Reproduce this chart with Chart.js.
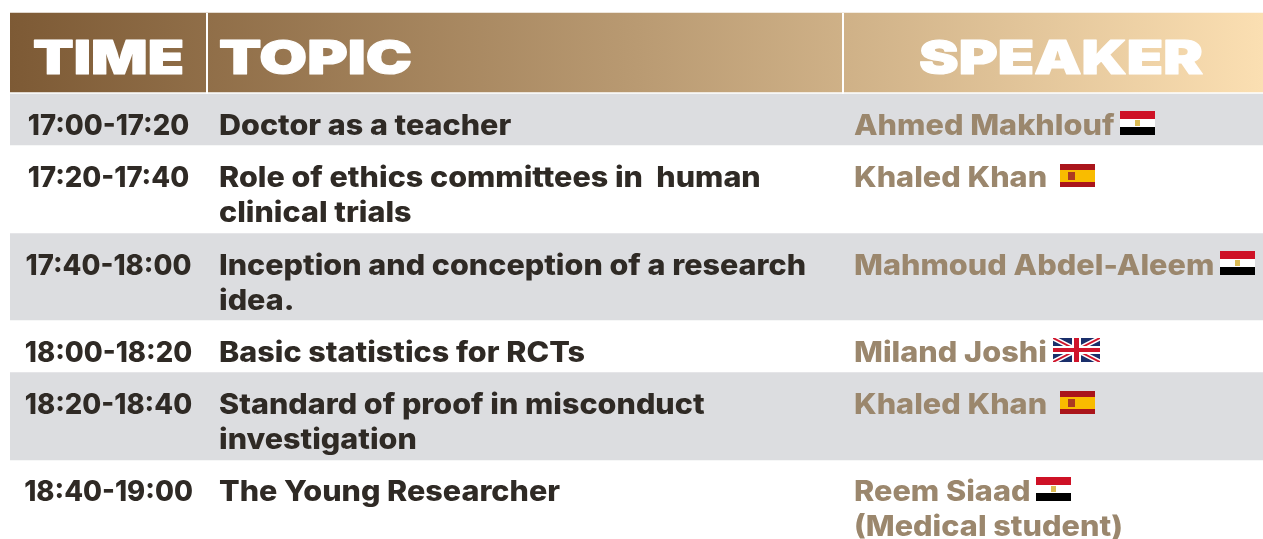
<!DOCTYPE html>
<html>
<head>
<meta charset="utf-8">
<title>Programme</title>
<script src="https://cdn.jsdelivr.net/npm/chart.js@4"></script>
<style>
    html, body { margin: 0; padding: 0; background: #ffffff; overflow: hidden; }
    canvas { display: block; }
</style>
</head>
<body>
<canvas id="chart" width="1263" height="539"></canvas>
<script>
// ============================================
// DATA
// ============================================
const headers = ['TIME', 'TOPIC', 'SPEAKER'];
const times = ['17:00-17:20', '17:20-17:40', '17:40-18:00', '18:00-18:20', '18:20-18:40', '18:40-19:00'];
const topics = [
    ['Doctor as a teacher'],
    ['Role of ethics committees in  human', 'clinical trials'],
    ['Inception and conception of a research', 'idea.'],
    ['Basic statistics for RCTs'],
    ['Standard of proof in misconduct', 'investigation'],
    ['The Young Researcher']
];
const speakers = [
    ['Ahmed Makhlouf'],
    ['Khaled Khan '],
    ['Mahmoud Abdel-Aleem'],
    ['Miland Joshi'],
    ['Khaled Khan '],
    ['Reem Siaad', '(Medical student)']
];
const flags = ['egypt', 'spain', 'egypt', 'uk', 'spain', 'egypt'];
// row edges on the y axis
const headerBand = [13, 92];
const rowEdges = [94, 145, 233, 320, 372, 460, 539];
const columnRules = [207, 843];

// ============================================
// STYLE
// ============================================
const GREY = '#dcdde0';
const INK = '#2f2a25';
const TAN = '#9b876d';
const TIME_CENTER = 108.5;
const TOPIC_X = 219;
const SPEAKER_X = 854;
const BODY_FONT = '800 28px Inter';
const TIME_STRETCH = 0.98;
const TOPIC_STRETCH = 1.09;
const SPEAKER_STRETCH = 1.095;
const LINE_GAP = 35;
const ROW_BASELINES = [135, 187, 275, 362, 414, 501];
const HEADER_SLOTS = [[33, 184], [219, 412], [919, 1203]];
const HEADER_BASELINE = 74;

function headerGradient(context) {
    const area = context.chart.chartArea;
    if (!area) return '#b08f68';
    const g = context.chart.ctx.createLinearGradient(area.left, 0, area.right, 0);
    g.addColorStop(0, '#7d5a35');
    g.addColorStop(0.5, '#b99a72');
    g.addColorStop(1, '#fbdfb2');
    return g;
}

function buildDatasets() {
    const sets = [{
        label: 'header',
        data: [headerBand],
        backgroundColor: headerGradient,
        xAxisID: 'band'
    }];
    rowEdges.slice(0, -1).forEach((edge, i) => {
        sets.push({
            label: times[i],
            data: [[edge, rowEdges[i + 1]]],
            backgroundColor: i % 2 === 0 ? GREY : '#ffffff',
            xAxisID: 'band'
        });
    });
    columnRules.forEach(x => {
        sets.push({
            type: 'scatter',
            label: 'rule',
            data: [{ x: x, y: headerBand[0] }, { x: x, y: headerBand[1] + 2 }],
            showLine: true,
            borderColor: '#ffffff',
            borderWidth: 2,
            pointRadius: 0,
            xAxisID: 'x',
            order: -1
        });
    });
    return sets;
}

// ============================================
// FLAGS
// ============================================
function drawEgypt(ctx, x, y) {
    ctx.fillStyle = '#ce1126'; ctx.fillRect(x, y, 35, 8);
    ctx.fillStyle = '#ffffff'; ctx.fillRect(x, y + 8, 35, 8);
    ctx.fillStyle = '#000000'; ctx.fillRect(x, y + 16, 35, 8);
    ctx.fillStyle = '#dcbc55'; ctx.fillRect(x + 15, y + 9, 5, 6);
}

function drawSpain(ctx, x, y) {
    ctx.fillStyle = '#aa151b'; ctx.fillRect(x, y + 1, 35, 23);
    ctx.fillStyle = '#f9bc00'; ctx.fillRect(x, y + 7, 35, 12);
    ctx.fillStyle = '#ad3a22'; ctx.fillRect(x + 8, y + 9, 7, 8);
}

function drawUk(ctx, x, y) {
    const w = 47, h = 24;
    ctx.save();
    ctx.beginPath(); ctx.rect(x, y, w, h); ctx.clip();
    ctx.fillStyle = '#1a2f6b'; ctx.fillRect(x, y, w, h);
    ctx.strokeStyle = '#ffffff'; ctx.lineWidth = 5;
    ctx.beginPath();
    ctx.moveTo(x, y); ctx.lineTo(x + w, y + h);
    ctx.moveTo(x + w, y); ctx.lineTo(x, y + h);
    ctx.stroke();
    ctx.strokeStyle = '#cf142b'; ctx.lineWidth = 2;
    ctx.stroke();
    ctx.fillStyle = '#ffffff';
    ctx.fillRect(x + 19, y, 9, h); ctx.fillRect(x, y + 8, w, 8);
    ctx.fillStyle = '#cf142b';
    ctx.fillRect(x + 21, y, 5, h); ctx.fillRect(x, y + 10, w, 4);
    ctx.restore();
}

// ============================================
// TEXT PLUGIN
// ============================================
function stretchedText(ctx, text, x, y, stretch, heavy) {
    ctx.save();
    ctx.translate(x, y);
    ctx.scale(stretch, 1);
    if (heavy) {
        ctx.strokeStyle = ctx.fillStyle;
        ctx.lineWidth = heavy;
        ctx.lineJoin = 'round';
        ctx.strokeText(text, 0, 0);
    }
    ctx.fillText(text, 0, 0);
    ctx.restore();
}

const tablePlugin = {
    id: 'tableText',
    afterDatasetsDraw(chart) {
        const ctx = chart.ctx;
        const xs = chart.scales.x;
        const ys = chart.scales.y;
        ctx.save();
        ctx.textBaseline = 'alphabetic';
        ctx.textAlign = 'left';

        // header labels, stretched to the wide display face
        ctx.fillStyle = '#ffffff';
        ctx.font = '900 47px Inter';
        headers.forEach((label, i) => {
            const [from, to] = HEADER_SLOTS[i];
            const stretch = (to - from) / ctx.measureText(label).width;
            stretchedText(ctx, label, xs.getPixelForValue(from), ys.getPixelForValue(HEADER_BASELINE), stretch, 1.2);
        });

        ctx.font = BODY_FONT;
        times.forEach((time, i) => {
            const base = ROW_BASELINES[i];
            ctx.fillStyle = INK;
            const tw = ctx.measureText(time).width * TIME_STRETCH;
            stretchedText(ctx, time, xs.getPixelForValue(TIME_CENTER) - tw / 2, ys.getPixelForValue(base), TIME_STRETCH);

            topics[i].forEach((line, n) => {
                stretchedText(ctx, line, xs.getPixelForValue(TOPIC_X), ys.getPixelForValue(base + n * LINE_GAP), TOPIC_STRETCH);
            });

            ctx.fillStyle = TAN;
            speakers[i].forEach((line, n) => {
                stretchedText(ctx, line, xs.getPixelForValue(SPEAKER_X), ys.getPixelForValue(base + n * LINE_GAP), SPEAKER_STRETCH);
            });

            const fx = Math.round(xs.getPixelForValue(SPEAKER_X) + ctx.measureText(speakers[i][0]).width * SPEAKER_STRETCH + 6);
            const fy = Math.round(ys.getPixelForValue(base)) - 24;
            if (flags[i] === 'egypt') drawEgypt(ctx, fx, fy);
            if (flags[i] === 'spain') drawSpain(ctx, fx, fy);
            if (flags[i] === 'uk') drawUk(ctx, fx, fy);
        });
        ctx.restore();
    }
};

// ============================================
// CHART
// ============================================
new Chart(document.getElementById('chart'), {
    type: 'bar',
    data: { labels: ['table'], datasets: buildDatasets() },
    options: {
        responsive: false,
        animation: false,
        layout: { padding: { left: 10 } },
        datasets: { bar: { grouped: false, barPercentage: 1, categoryPercentage: 1, borderWidth: 0 } },
        plugins: { legend: { display: false }, tooltip: { enabled: false } },
        scales: {
            band: { type: 'category', labels: ['table'], display: false, offset: true },
            x: { type: 'linear', min: 10, max: 1263, offset: false, display: false },
            y: { min: 0, max: 539, reverse: true, display: false }
        }
    },
    plugins: [tablePlugin]
});
</script>
</body>
</html>
